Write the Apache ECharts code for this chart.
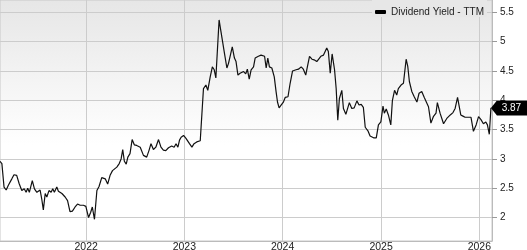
<!DOCTYPE html>
<html>
<head>
<meta charset="utf-8">
<script src="https://cdn.jsdelivr.net/npm/echarts@6/dist/echarts.min.js"></script>
<style>html,body{margin:0;padding:0;background:#fff;}#c{width:527px;height:250px;}</style>
</head>
<body>
<div id="c"></div>
<script>
var seriesName = 'Dividend Yield - TTM';
var dates = [
'2021-02-15','2021-02-22','2021-03-02','2021-03-10','2021-03-18','2021-03-31','2021-04-08','2021-04-18','2021-04-27','2021-05-07',
'2021-05-16','2021-05-23','2021-05-29','2021-06-04','2021-06-15','2021-06-23','2021-07-02','2021-07-08','2021-07-14','2021-07-20',
'2021-07-26','2021-08-02','2021-08-08','2021-08-16','2021-08-24','2021-08-30','2021-09-05','2021-09-14','2021-09-20','2021-10-03',
'2021-10-15','2021-10-24','2021-11-02','2021-11-11','2021-11-21','2021-11-30','2021-12-10','2021-12-22','2021-12-31',
'2022-01-10','2022-01-18','2022-01-24','2022-02-01','2022-02-10','2022-02-18','2022-02-28','2022-03-13','2022-03-22','2022-03-31',
'2022-04-09','2022-04-16','2022-04-25','2022-05-04','2022-05-11','2022-05-17','2022-05-23','2022-05-30','2022-06-05','2022-06-13',
'2022-06-21','2022-06-29','2022-07-08','2022-07-21','2022-08-02','2022-08-14','2022-08-23','2022-08-30','2022-09-08','2022-09-17',
'2022-09-27','2022-10-06','2022-10-15','2022-10-24','2022-11-03','2022-11-15','2022-11-24','2022-12-01','2022-12-08','2022-12-14',
'2022-12-20','2022-12-29',
'2023-01-07','2023-01-14','2023-01-20','2023-01-29','2023-02-06','2023-02-16','2023-03-01','2023-03-13','2023-03-22','2023-03-29',
'2023-04-07','2023-04-15','2023-04-22','2023-04-28','2023-05-04','2023-05-10','2023-05-17','2023-05-22','2023-05-30','2023-06-08',
'2023-06-14','2023-06-20','2023-06-28','2023-07-06','2023-07-12','2023-07-19','2023-07-27','2023-08-09','2023-08-17','2023-08-23',
'2023-08-30','2023-09-06','2023-09-15','2023-09-21','2023-10-03','2023-10-13','2023-10-20','2023-10-26','2023-11-01','2023-11-07',
'2023-11-13','2023-11-22','2023-12-01','2023-12-08','2023-12-13','2023-12-19','2023-12-27',
'2024-01-04','2024-01-11','2024-01-21','2024-01-29','2024-02-07','2024-02-13','2024-02-20','2024-02-29','2024-03-10','2024-03-18',
'2024-03-27','2024-04-02','2024-04-10','2024-04-19','2024-04-27','2024-05-07','2024-05-13','2024-05-22','2024-06-01','2024-06-13',
'2024-06-19','2024-06-26','2024-07-03','2024-07-12','2024-07-18','2024-07-24','2024-07-30','2024-08-08','2024-08-14','2024-08-23',
'2024-08-29','2024-09-05','2024-09-14','2024-09-23','2024-10-03','2024-10-11','2024-10-19','2024-10-27','2024-11-03','2024-11-13',
'2024-11-21','2024-12-04','2024-12-14','2024-12-22','2024-12-31',
'2025-01-08','2025-01-13','2025-01-20','2025-01-28','2025-02-06','2025-02-12','2025-02-20','2025-02-28','2025-03-06','2025-03-16',
'2025-03-25','2025-03-29','2025-04-04','2025-04-10','2025-04-16','2025-04-25','2025-05-04','2025-05-14','2025-05-22','2025-06-01',
'2025-06-10','2025-06-16','2025-06-26','2025-07-05','2025-07-14','2025-07-24','2025-07-29','2025-08-08','2025-08-21','2025-09-02',
'2025-09-15','2025-09-25','2025-10-03','2025-10-12','2025-10-18','2025-10-24','2025-11-01','2025-11-09','2025-11-22','2025-12-01',
'2025-12-10','2025-12-20','2025-12-29',
'2026-01-07','2026-01-16','2026-01-25','2026-01-31','2026-02-07','2026-02-13'
];
var values = [
2.96,2.92,2.52,2.47,2.55,2.66,2.73,2.72,2.58,2.46,
2.49,2.43,2.50,2.43,2.63,2.49,2.43,2.46,2.47,2.32,
2.13,2.41,2.35,2.46,2.43,2.49,2.43,2.52,2.45,2.41,
2.35,2.29,2.10,2.11,2.18,2.23,2.21,2.21,2.19,
2.00,2.09,2.18,1.97,2.46,2.53,2.68,2.66,2.57,2.72,
2.80,2.78,2.86,2.92,3.00,3.16,2.96,2.91,3.03,3.09,
3.33,3.24,3.23,3.20,3.06,3.03,3.15,3.26,3.16,3.20,
3.33,3.20,3.15,3.14,3.19,3.22,3.20,3.26,3.20,3.32,
3.37,3.40,
3.35,3.33,3.26,3.20,3.26,3.29,3.31,4.20,4.26,4.17,
4.40,4.57,4.52,4.38,4.38,5.37,5.17,5.16,4.80,4.55,
4.63,4.63,4.91,4.72,4.66,4.43,4.46,4.49,4.45,4.53,
4.36,4.52,4.57,4.72,4.75,4.77,4.80,4.75,4.55,4.72,
4.57,4.55,4.40,4.14,3.97,3.87,3.92,
3.97,4.05,4.06,4.29,4.50,4.49,4.52,4.53,4.57,4.53,
4.43,4.57,4.75,4.70,4.69,4.66,4.63,4.75,4.77,4.89,
4.83,4.46,4.79,4.52,4.20,3.66,4.03,4.17,3.86,3.76,
3.76,3.96,3.86,3.87,3.99,3.92,3.93,3.88,3.54,3.48,
3.39,3.36,3.36,3.58,3.63,
3.90,3.78,3.85,3.75,3.58,4.00,4.17,4.09,4.20,4.26,
4.29,4.32,4.70,4.58,4.32,4.15,4.06,3.97,4.12,4.15,
4.05,4.05,3.89,3.61,3.72,3.78,3.96,3.78,3.60,3.69,
3.75,3.79,3.86,4.05,4.02,3.75,3.73,3.71,3.71,3.71,
3.47,3.58,3.72,
3.67,3.60,3.63,3.58,3.42,3.87
];
var xRange = ['2021-02-15', '2026-02-17'];
var xTickDates = ['2022-01-01','2023-01-01','2024-01-01','2025-01-01','2026-01-01'];
var xTickLabels = ['2022','2023','2024','2025','2026'];
var yTickValues = [2, 2.5, 3, 3.5, 4, 4.5, 5, 5.5];

function toTime(d) { return Date.parse(d + 'T00:00:00Z'); }
var xTickTimes = xTickDates.map(toTime);
var seriesData = dates.map(function (d, i) { return [toTime(d), values[i]]; });
var last = seriesData[seriesData.length - 1];

var chart = echarts.init(document.getElementById('c'), null, {renderer: 'canvas'});

chart.setOption({
  animation: false,
  textStyle: {fontFamily: 'Liberation Sans, Arial, sans-serif'},
  legend: {
    right: 40, top: 0,
    padding: [7, 3, 0, 3],
    backgroundColor: '#e7e7e7',
    itemWidth: 11, itemHeight: 4,
    icon: 'roundRect',
    textStyle: {fontSize: 10, color: '#222', lineHeight: 10},
    data: [seriesName]
  },
  grid: {
    left: 0, right: 35, top: 0, bottom: 9,
    outerBoundsMode: 'none',
    containLabel: false,
    show: true,
    borderColor: '#c8c8c8', borderWidth: 1,
    backgroundColor: {
      type: 'linear', x: 0, y: 0, x2: 0, y2: 1,
      colorStops: [{offset: 0, color: '#e6e6e6'}, {offset: 0.6, color: '#ffffff'}, {offset: 1, color: '#ffffff'}]
    }
  },
  xAxis: {
    type: 'value',
    min: toTime(xRange[0]), max: toTime(xRange[1]),
    axisLine: {show: true, lineStyle: {color: '#bbbbbb'}},
    axisTick: {show: false, customValues: xTickTimes},
    axisLabel: {
      customValues: xTickTimes,
      fontSize: 10.5, color: '#222', margin: 1,
      formatter: function (v) {
        var i = xTickTimes.indexOf(v);
        return i >= 0 ? xTickLabels[i] : '';
      }
    },
    splitLine: {show: true, lineStyle: {color: '#cccccc', width: 1}}
  },
  yAxis: {
    type: 'value',
    position: 'right',
    min: 1.6, max: 5.71,
    axisLine: {show: true, lineStyle: {color: '#bbbbbb'}},
    axisTick: {show: true, length: 5, customValues: yTickValues, lineStyle: {color: '#999999'}},
    axisLabel: {customValues: yTickValues, fontSize: 10, color: '#222', margin: 8},
    splitLine: {show: true, lineStyle: {color: '#cccccc', width: 1}}
  },
  series: [{
    name: seriesName,
    type: 'line',
    showSymbol: false,
    symbol: 'none',
    data: seriesData,
    lineStyle: {color: '#111', width: 1.2},
    itemStyle: {color: '#000'},
    silent: true,
    markPoint: {
      silent: true,
      symbol: 'path://M0,7.5L6,0L37,0L37,15L6,15Z',
      symbolSize: [37, 15],
      symbolKeepAspect: false,
      symbolOffset: [18.5, 0],
      itemStyle: {color: '#000'},
      label: {show: true, position: 'inside', color: '#fff', fontSize: 10, offset: [2, 0],
        formatter: function (p) { return p.value.toFixed(2); }},
      data: [{coord: [last[0], last[1]], value: last[1]}]
    }
  }]
});
</script>
</body>
</html>
